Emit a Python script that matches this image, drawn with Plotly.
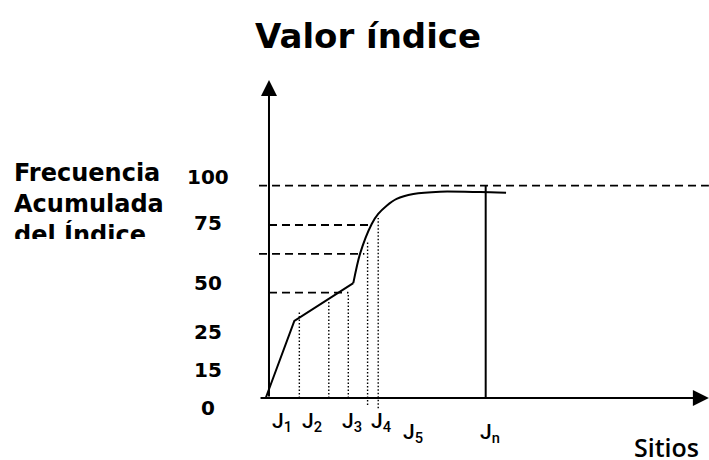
import plotly.graph_objects as go

# ---------------- data (chart units: x = sites, y = cumulative frequency) ----------------
curve_lin_x = [-1.5, 11.7, 38.9]
curve_lin_y = [0, 36.3, 54.1]
curve_spl_x = [38.9, 42.0, 47.4, 50.4, 54.3, 58.9, 66.6, 78.9, 97.4, 109.4]
curve_spl_y = [54.1, 67.9, 82.0, 86.7, 90.6, 93.8, 96.1, 97.2, 97.0, 96.7]

ref_y = [100, 81.5, 67.9, 49.6]
ref_x_start = [-4.6, 0, -4.6, 0]
ref_x_end = [203, 47.4, 44.0, 36.6]

site_x = [14.0, 27.6, 36.6, 45.5, 50.4]
site_y_low = [0, 0, 0, -3.3, -4.8]
site_y_high = [41, 46, 49.6, 73.4, 84.8]

jn_x = [100, 100]
jn_y = [0, 100]

tick_labels = ["100", "75", "50", "25", "15", "0"]
tick_pos = [104.3, 82.4, 54.2, 31.1, 13.2, -4.7]

site_labels = ["J<sub>1</sub>", "J<sub>2</sub>", "J<sub>3</sub>", "J<sub>4</sub>",
               "J<sub>5</sub>", "J<sub>n</sub>"]
site_label_x = [6.2, 19.8, 38.3, 51.7, 66.5, 102.2]
site_label_y = [-11.5, -11.5, -11.5, -11.5, -16.5, -16.5]

x_axis_end = 203.0
y_axis_end = 149.8

# ---------------- figure ----------------
BOLD = "DejaVu Sans, sans-serif"

fig = go.Figure()


def segs(xs0, xs1, ys0, ys1):
    X, Y = [], []
    for a, b, c, d in zip(xs0, xs1, ys0, ys1):
        X += [a, b, None]
        Y += [c, d, None]
    return X, Y


# dashed horizontal reference lines
hx, hy = segs(ref_x_start, ref_x_end, ref_y, ref_y)
fig.add_trace(go.Scatter(x=hx, y=hy, mode="lines",
                         line=dict(color="black", width=1.8, dash="8px,5px"),
                         hoverinfo="skip"))
# dotted vertical lines
vx, vy = segs(site_x, site_x, site_y_low, site_y_high)
fig.add_trace(go.Scatter(x=vx, y=vy, mode="lines",
                         line=dict(color="black", width=1.4, dash="1.5px,2px"),
                         hoverinfo="skip"))
# Jn line
fig.add_trace(go.Scatter(x=jn_x, y=jn_y, mode="lines",
                         line=dict(color="black", width=2), hoverinfo="skip"))
# curve
fig.add_trace(go.Scatter(x=curve_lin_x, y=curve_lin_y, mode="lines",
                         line=dict(color="black", width=2), hoverinfo="skip"))
fig.add_trace(go.Scatter(x=curve_spl_x, y=curve_spl_y, mode="lines",
                         line=dict(color="black", width=2, shape="spline", smoothing=0.8),
                         hoverinfo="skip"))

ann = []
# axes with arrowheads
ann.append(dict(x=0, y=y_axis_end, ax=0, ay=0, xref="x", yref="y", axref="x", ayref="y",
                text="", showarrow=True, arrowhead=2, arrowsize=1.6, arrowwidth=2,
                arrowcolor="black", standoff=0, startstandoff=0))
ann.append(dict(x=x_axis_end, y=0, ax=-4.6, ay=0, xref="x", yref="y", axref="x", ayref="y",
                text="", showarrow=True, arrowhead=2, arrowsize=1.6, arrowwidth=2,
                arrowcolor="black", standoff=0, startstandoff=0))

for t, p in zip(tick_labels, tick_pos):
    ann.append(dict(x=-28.1, y=p, xref="x", yref="y", text=t, showarrow=False,
                    xanchor="center", yanchor="middle",
                    font=dict(family=BOLD, size=20, color="black", weight="bold")))

for t, x, y in zip(site_labels, site_label_x, site_label_y):
    ann.append(dict(x=x, y=y, xref="x", yref="y", text=t, showarrow=False,
                    xanchor="center", yanchor="middle",
                    font=dict(family="Roboto, sans-serif", size=21, color="black", weight=500)))

ann.append(dict(x=183.4, y=-23.3, xref="x", yref="y", text="Sitios", showarrow=False,
                xanchor="center", yanchor="middle",
                font=dict(family="Open Sans, sans-serif", size=25, color="black", weight=600)))

ann.append(dict(x=45.7, y=170.5, xref="x", yref="y", text="Valor índice", showarrow=False,
                xanchor="center", yanchor="middle",
                font=dict(family=BOLD, size=34, color="black", weight="bold")))

ann.append(dict(x=-118.1, y=112.9, xref="x", yref="y",
                text="Frecuencia<br>Acumulada<br>del Índice", showarrow=False,
                xanchor="left", yanchor="top", align="left", valign="top", height=80,
                borderpad=0,
                font=dict(family=BOLD, size=24, color="black", weight="bold")))

fig.update_layout(
    width=709, height=460, autosize=False,
    margin=dict(l=0, r=0, t=0, b=0, pad=0),
    paper_bgcolor="white", plot_bgcolor="white",
    showlegend=False,
    xaxis=dict(range=[-124.13, 203.05], visible=False, fixedrange=True),
    yaxis=dict(range=[-29.2, 187.47], visible=False, fixedrange=True),
    annotations=ann,
)

fig.write_html("out.html", config={"displayModeBar": False},
               post_script="document.body.style.margin='0px';document.body.style.overflow='hidden';")
